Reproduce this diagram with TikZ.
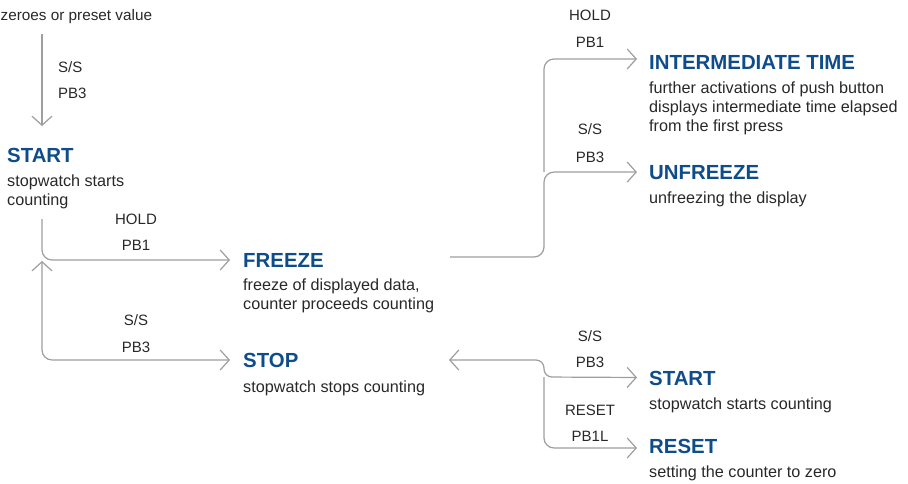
\documentclass[tikz,border=0pt]{standalone}
\usepackage{fontspec}
\setmainfont{Liberation Sans}
\usetikzlibrary{arrows.meta}
\definecolor{headblue}{RGB}{14,76,138}
\definecolor{linegray}{RGB}{158,158,158}
\definecolor{textgray}{RGB}{40,40,40}
\tikzset{
  head/.style={anchor=base west, inner sep=0pt, text=headblue,
    font=\fontsize{20.4}{22}\selectfont\bfseries},
  % multi-line bodies are anchored at the baseline of their last line
  body/.style={anchor=base west, inner sep=0pt, text=textgray, align=left,
    font=\fontsize{16.2}{18.8}\selectfont},
  lbl/.style={anchor=base, inner sep=0pt, text=textgray,
    font=\fontsize{15}{17}\selectfont},
  conn/.style={draw=linegray, line width=1.2pt, rounded corners=10pt,
    >={Straight Barb[length=9pt,width=20pt]}},
}
\begin{document}
\begin{tikzpicture}[x=1pt,y=-1pt]
\useasboundingbox (0,0) rectangle (908,483);

% entry text
\node[body, font=\fontsize{15.3}{18}\selectfont] (preset) at (0.5,20) {zeroes or preset value};
\node[lbl, anchor=base west] (ss0) at (58,72) {S/S};
\node[lbl, anchor=base west] (pb0) at (58,98) {PB3};

% left column states
\node[head] (start1) at (7,162) {START};
\node[body] (start1t) at (7,205.5) {stopwatch starts\\counting};

\node[lbl] (hold1) at (136,224) {HOLD};
\node[lbl] (pb1a) at (136,250) {PB1};
\node[lbl] (ss1) at (136,325) {S/S};
\node[lbl] (pb3a) at (136,352) {PB3};

\node[head] (freeze) at (243,267) {FREEZE};
\node[body] (freezet) at (243,309.5) {freeze of displayed data,\\counter proceeds counting};
\node[head] (stop) at (243,367) {STOP};
\node[body] (stopt) at (243,392) {stopwatch stops counting};

% right column: from FREEZE
\node[lbl] (hold2) at (590,20) {HOLD};
\node[lbl] (pb1b) at (590,47) {PB1};
\node[head] (inter) at (649,69) {INTERMEDIATE TIME};
\node[body] (intert) at (649,131) {further activations of push button\\displays intermediate time elapsed\\from the first press};
\node[lbl] (ss2) at (590,134) {S/S};
\node[lbl] (pb3b) at (590,162) {PB3};
\node[head] (unfreeze) at (649,179) {UNFREEZE};
\node[body] (unfreezet) at (649,203) {unfreezing the display};

% right column: from STOP
\node[lbl] (ss3) at (590,341) {S/S};
\node[lbl] (pb3c) at (590,367) {PB3};
\node[head] (start2) at (649,385) {START};
\node[body] (start2t) at (649,409) {stopwatch starts counting};
\node[lbl] (rst) at (590,415) {RESET};
\node[lbl] (pb1l) at (590,441) {PB1L};
\node[head] (reset) at (649,453) {RESET};
\node[body] (resett) at (649,477) {setting the counter to zero};

% connector end points
\coordinate (in0) at (42,34);
\coordinate (in1) at (42,126);
\coordinate (s1out) at (42,219);
\coordinate (s1in) at (42,261);
\coordinate (fzout) at (450,257);
\coordinate (fzsplit) at (544,257);
\coordinate (fzup) at (544,172);
\coordinate (stin) at (449,360);
\coordinate (stsplit) at (544,377);

% connectors
\draw[conn,->] (in0) -- (in1);
\draw[conn,->] (s1out) |- ([xshift=-13pt]freeze.west);
\draw[conn,<->] (s1in) |- ([xshift=-13pt]stop.west);
\draw[conn,->] (fzout) -- (fzsplit) |- ([xshift=-12pt]unfreeze.west);
\draw[conn,->] (fzup) |- ([xshift=-12pt,yshift=3pt]inter.west);
\draw[conn,<->,rounded corners=8pt] (stin) -| (stsplit) -- ([xshift=-12pt,yshift=0.5pt]start2.west);
\draw[conn,->] (stsplit) |- ([xshift=-12pt,yshift=-2pt]reset.west);
\end{tikzpicture}
\end{document}
